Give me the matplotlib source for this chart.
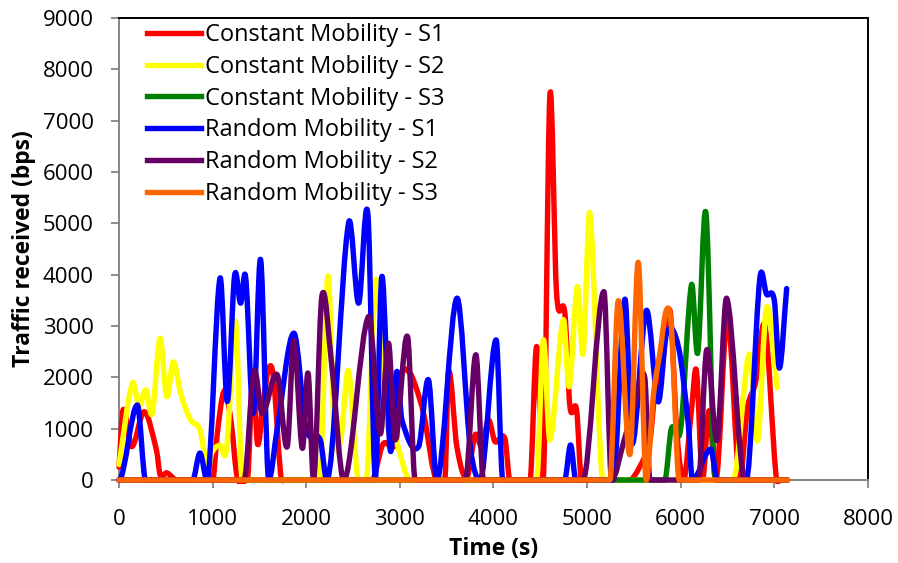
import numpy as np
import matplotlib.pyplot as plt
from matplotlib.path import Path
from matplotlib.patches import PathPatch, Rectangle
from matplotlib.lines import Line2D

plt.rcParams['font.family'] = ['Open Sans', 'DejaVu Sans']

# Constant Mobility - S1
cm1_t = [0, 45, 135, 270, 400, 440, 510, 620, 1000, 1050, 1104, 1140, 1200, 1264, 1370, 1430, 1480,
         1540, 1600, 1650, 1726, 1760, 2700, 2820, 2960, 3010, 3100, 3164, 3253, 3400, 3480, 3520,
         3609, 3716, 3805, 3876, 3947, 4016, 4122, 4176, 4390, 4461, 4530, 4603, 4674, 4763, 4817,
         4888, 4941, 5450, 5560, 5672, 5720, 5790, 5886, 5960, 6030, 6117, 6168, 6232, 6303, 6375,
         6500, 6625, 6714, 6800, 6900, 7017, 7060, 7140]
cm1_v = [250, 1370, 650, 1330, 585, 100, 140, 0, 0, 900, 1620, 1720, 1100, 50, 0, 2100, 700,
         1500, 2180, 2000, 130, 0, 0, 700, 760, 2000, 2100, 1850, 1300, 0, 0, 2110,
         650, 50, 880, 650, 1170, 750, 810, 0, 0, 2600, 0, 7500, 3640, 3250, 1430,
         1370, 0, 0, 250, 780, 1600, 2000, 3300, 900, 0, 1400, 2130, 50, 1350, 0,
         3170, 50, 1415, 1900, 3000, 120, 0, 0]

# Constant Mobility - S2
cm2_t = [0, 142, 214, 285, 356, 438, 509, 580, 658, 765, 865, 950, 990, 1078, 1150, 1246, 1317,
         2142, 2232, 2300, 2370, 2451, 2560, 2640, 2740, 2850, 2960, 3110, 4400, 4461, 4532,
         4603, 4745, 4810, 4895, 4959, 5030, 5171, 6560, 6732, 6821, 6917, 7030]
cm2_v = [300, 1885, 1430, 1755, 1300, 2760, 1625, 2300, 1690, 1170, 975, 195, 525, 680, 610, 3090, 0,
         0, 3970, 900, 800, 2130, 0, 0, 3900, 1200, 760, 0, 0, 0, 2727,
         780, 3117, 1820, 3766, 2468, 5195, 0, 0, 2450, 766, 3360, 1800]

# Constant Mobility - S3
cm3_t = [0, 5830, 5900, 6000, 6115, 6182, 6270, 6370, 7140]
cm3_v = [0, 0, 1000, 1000, 3800, 2480, 5200, 0, 0]

# Random Mobility - S1
rm1_t = [0, 196, 285, 787, 865, 940, 1079, 1157, 1235, 1299, 1353, 1435, 1513, 1600, 1690, 1868,
         2000, 2150, 2220, 2452, 2560, 2659, 2737, 2808, 2897, 2968, 3022, 3200, 3306, 3395, 3609,
         3752, 3858, 4029, 4100, 4760, 4824, 4880, 5278, 5404, 5480, 5632, 5760, 5850, 5975, 6082,
         6125, 6321, 6393, 6700, 6845, 6917, 7000, 7055, 7132]
rm1_v = [0, 1460, 0, 0, 525, 0, 3930, 1530, 3980, 3445, 3950, 1300, 4290, 0, 1000, 2860,
         1000, 780, 0, 5005, 3445, 5170, 50, 3965, 585, 2110, 1170, 650, 1950, 0, 3540,
         650, 0, 2730, 0, 0, 682, 0, 0, 3520, 700, 3300, 1525, 2870, 2600, 1070,
         0, 600, 0, 0, 3920, 3620, 3500, 2180, 3730]

# Random Mobility - S2
rm2_t = [0, 1335, 1441, 1530, 1690, 1797, 1868, 1958, 2020, 2078, 2167, 2274, 2400, 2666, 2790,
         2879, 2950, 3082, 3164, 3700, 3812, 3894, 4955, 5180, 5262, 5400, 5500, 5615, 5672, 6190,
         6278, 6390, 6491, 6687, 7140]
rm2_v = [0, 0, 2110, 1300, 2050, 650, 2720, 620, 2080, 0, 3575, 2210, 0, 3185, 900,
         2665, 780, 2795, 0, 0, 2440, 0, 0, 3670, 0, 800, 1400, 2010, 0, 0,
         2535, 780, 3540, 0, 0]

# Random Mobility - S3
rm3_t = [0, 5243, 5333, 5458, 5547, 5632, 5708, 5780, 5846, 5900, 5985, 7145]
rm3_v = [0, 0, 3490, 500, 4240, 0, 1640, 2500, 3300, 3000, 0, 0]

series = [
    ('Constant Mobility - S1', cm1_t, cm1_v, '#FF0000'),
    ('Constant Mobility - S2', cm2_t, cm2_v, '#FFFF00'),
    ('Constant Mobility - S3', cm3_t, cm3_v, '#008000'),
    ('Random Mobility - S1', rm1_t, rm1_v, '#0000FF'),
    ('Random Mobility - S2', rm2_t, rm2_v, '#660066'),
    ('Random Mobility - S3', rm3_t, rm3_v, '#FF6600'),
]


def smooth_path(xs, ys):
    # cubic hermite through the points as bezier segments (like excel "smoothed line")
    x = np.asarray(xs, float)
    y = np.asarray(ys, float)
    n = len(x)
    m = np.zeros(n)
    m[0] = (y[1] - y[0]) / (x[1] - x[0])
    m[-1] = (y[-1] - y[-2]) / (x[-1] - x[-2])
    for i in range(1, n - 1):
        m[i] = (y[i + 1] - y[i - 1]) / (x[i + 1] - x[i - 1])
    m[y == 0] = 0  # keep zero points flat so the curve doesn't dip under the axis
    verts = [(x[0], y[0])]
    codes = [Path.MOVETO]
    for i in range(n - 1):
        h = x[i + 1] - x[i]
        verts += [(x[i] + h / 3, y[i] + m[i] * h / 3),
                  (x[i + 1] - h / 3, y[i + 1] - m[i + 1] * h / 3),
                  (x[i + 1], y[i + 1])]
        codes += [Path.CURVE4] * 3
    return Path(verts, codes)


fig = plt.figure(figsize=(8.98, 5.63), dpi=100)
ax = fig.add_axes([0.1325, 0.1474, 0.834, 0.8206])

clip = Rectangle((-200, -80), 8400, 9080, transform=ax.transData)

handles = []
for name, t, v, col in series:
    patch = PathPatch(smooth_path(t, v), facecolor='none', edgecolor=col, linewidth=3.9,
                      capstyle='round', joinstyle='round', zorder=3)
    ax.add_patch(patch)
    patch.set_clip_path(clip)
    handles.append(Line2D([], [], color=col, linewidth=3.9, label=name))

ax.set_xlim(0, 8000)
ax.set_ylim(0, 9000)
ax.set_xticks(range(0, 8001, 1000))
ax.set_yticks(range(0, 9001, 1000))

for s in ['left', 'bottom']:
    ax.spines[s].set_color('#868686')
    ax.spines[s].set_linewidth(1.4)
for s in ['top', 'right']:
    ax.spines[s].set_color('black')
    ax.spines[s].set_linewidth(1.4)
ax.tick_params(direction='out', length=6, width=1.3, color='#868686', labelsize=16)
ax.tick_params(axis='y', pad=12)
ax.tick_params(axis='x', pad=15)

ax.set_xlabel('Time (s)', fontsize=16.5, fontweight='bold', labelpad=5)
ax.set_ylabel('Traffic received (bps)', fontsize=16.5, fontweight='bold', labelpad=5)

ax.legend(handles=handles, loc='upper left', bbox_to_anchor=(0.012, 1.03), frameon=False,
          fontsize=17, handlelength=2.3, handletextpad=0.17, labelspacing=0.33, borderpad=0.3)

fig.savefig('out.png', dpi=100)
